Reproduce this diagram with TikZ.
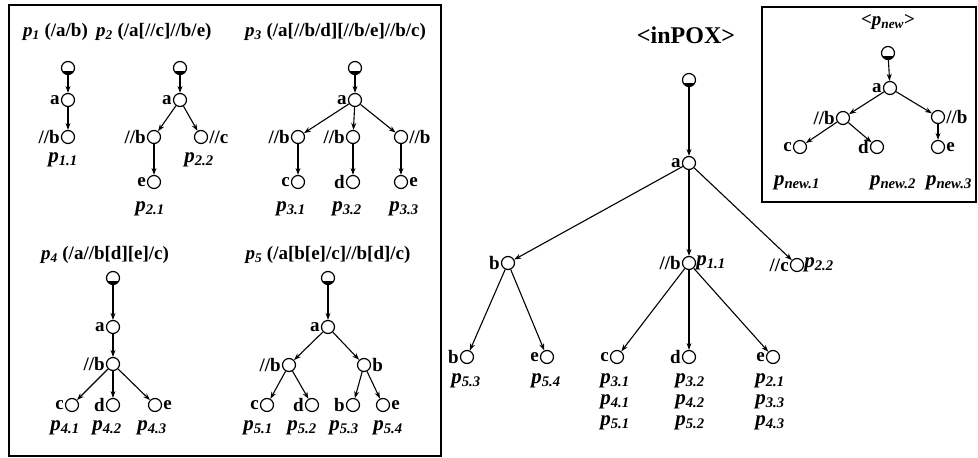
\documentclass[tikz,border=0pt]{standalone}
\usepackage{fontspec}
\setmainfont{Liberation Serif}
\usetikzlibrary{arrows.meta}

% bold-italic path label p_{i.j}
\newcommand\pv[1]{\textbf{\textit{p\textsubscript{#1}}}}

\tikzset{
  vtx/.style={circle, draw, line width=1.2pt, minimum size=13pt, inner sep=0pt},
  rootv/.style={vtx, path picture={\fill (path picture bounding box.south west)
      rectangle ([yshift=4pt]path picture bounding box.south east);}},
  nl/.style={font=\bfseries\fontsize{19}{19}\selectfont, inner sep=0pt, label distance=1pt},
  pl/.style={font=\fontsize{21}{21}\selectfont, inner sep=0pt},
  ttl/.style={font=\bfseries\fontsize{19}{19}\selectfont, inner sep=0pt},
  edge/.style={-{Stealth[length=7pt,width=5pt]}, line width=1.1pt},
}

\begin{document}
\begin{tikzpicture}[x=1pt,y=-1pt]
\useasboundingbox (0,0) rectangle (978,458);

% ---------- query patterns p1 .. p5 ----------
\draw[line width=2pt] (9,5) rectangle (441,456);

\node[ttl, anchor=west] (t1) at (23,32) {\pv{1} (/a/b)};
\node[ttl, anchor=west] (t2) at (96,32) {\pv{2} (/a[//c]//b/e)};
\node[ttl, anchor=west] (t3) at (245,32) {\pv{3} (/a[//b/d][//b/e]//b/c)};

% p1
\node[rootv] (r1) at (68,68) {};
\node[vtx, label={[nl]left:a}] (a1) at (68,100) {};
\node[vtx, label={[nl]left://b}] (b1) at (68,137) {};
\node[pl] (l11) at (63,160) {\pv{1.1}};
\draw[edge] (r1) -- (a1);
\draw[edge] (a1) -- (b1);

% p2
\node[rootv] (r2) at (180,68) {};
\node[vtx, label={[nl]left:a}] (a2) at (180,100) {};
\node[vtx, label={[nl]left://b}] (b2) at (154,137) {};
\node[vtx, label={[nl]right://c}] (c2) at (201,137) {};
\node[vtx, label={[nl]left:e}] (e2) at (154,182) {};
\node[pl] (l22) at (199,160) {\pv{2.2}};
\node[pl] (l21) at (150,209) {\pv{2.1}};
\draw[edge] (r2) -- (a2);
\draw[edge] (a2) -- (b2);
\draw[edge] (a2) -- (c2);
\draw[edge] (b2) -- (e2);

% p3
\node[rootv] (r3) at (355,68) {};
\node[vtx, label={[nl]left:a}] (a3) at (355,100) {};
\node[vtx, label={[nl]left://b}] (b3a) at (298,137) {};
\node[vtx, label={[nl]left://b}] (b3b) at (353,137) {};
\node[vtx, label={[nl]right://b}] (b3c) at (401,137) {};
\node[vtx, label={[nl]left:c}] (c3) at (298,182) {};
\node[vtx, label={[nl]left:d}] (d3) at (353,182) {};
\node[vtx, label={[nl]right:e}] (e3) at (401,182) {};
\node[pl] (l31) at (291,209) {\pv{3.1}};
\node[pl] (l32) at (347,209) {\pv{3.2}};
\node[pl] (l33) at (404,209) {\pv{3.3}};
\draw[edge] (r3) -- (a3);
\draw[edge] (a3) -- (b3a);
\draw[edge] (a3) -- (b3b);
\draw[edge] (a3) -- (b3c);
\draw[edge] (b3a) -- (c3);
\draw[edge] (b3b) -- (d3);
\draw[edge] (b3c) -- (e3);

% p4
\node[ttl] (t4) at (105,255) {\pv{4} (/a//b[d][e]/c)};
\node[rootv] (r4) at (113,278) {};
\node[vtx, label={[nl]left:a}] (a4) at (113,327) {};
\node[vtx, label={[nl]left://b}] (b4) at (113,364) {};
\node[vtx, label={[nl]left:c}] (c4) at (72,405) {};
\node[vtx, label={[nl]left:d}] (d4) at (113,405) {};
\node[vtx, label={[nl]right:e}] (e4) at (155,405) {};
\node[pl] (l41) at (65,428) {\pv{4.1}};
\node[pl] (l42) at (107,428) {\pv{4.2}};
\node[pl] (l43) at (152,428) {\pv{4.3}};
\draw[edge] (r4) -- (a4);
\draw[edge] (a4) -- (b4);
\draw[edge] (b4) -- (c4);
\draw[edge] (b4) -- (d4);
\draw[edge] (b4) -- (e4);

% p5
\node[ttl] (t5) at (328,255) {\pv{5} (/a[b[e]/c]//b[d]/c)};
\node[rootv] (r5) at (328,278) {};
\node[vtx, label={[nl]left:a}] (a5) at (328,327) {};
\node[vtx, label={[nl]left://b}] (b5) at (289,365) {};
\node[vtx, label={[nl]right:b}] (bb5) at (364,365) {};
\node[vtx, label={[nl]left:c}] (c5) at (267,405) {};
\node[vtx, label={[nl]left:d}] (d5) at (312,405) {};
\node[vtx, label={[nl]left:b}] (bl5) at (353,405) {};
\node[vtx, label={[nl]right:e}] (e5) at (383,405) {};
\node[pl] (l51) at (258,428) {\pv{5.1}};
\node[pl] (l52) at (302,428) {\pv{5.2}};
\node[pl] (l53) at (344,428) {\pv{5.3}};
\node[pl] (l54) at (388,428) {\pv{5.4}};
\draw[edge] (r5) -- (a5);
\draw[edge] (a5) -- (b5);
\draw[edge] (a5) -- (bb5);
\draw[edge] (b5) -- (c5);
\draw[edge] (b5) -- (d5);
\draw[edge] (bb5) -- (bl5);
\draw[edge] (bb5) -- (e5);

% ---------- inPOX ----------
\node[ttl, font=\bfseries\fontsize{24}{24}\selectfont] (tin) at (686,35) {\textless inPOX\textgreater};
\node[rootv] (ri) at (689,80) {};
\node[vtx, label={[nl]left:a}] (ai) at (689,163) {};
\node[vtx, label={[nl]left:b}] (bi) at (508,263) {};
\node[vtx, label={[nl]left://b}, label={[pl]right:\pv{1.1}}] (sbi) at (689,263) {};
\node[vtx, label={[nl]left://c}, label={[pl]right:\pv{2.2}}] (sci) at (797,265) {};
\node[vtx, label={[nl]left:b}] (bl) at (467,357) {};
\node[vtx, label={[nl]left:e}] (el) at (547,357) {};
\node[vtx, label={[nl]left:c}] (cl) at (617,357) {};
\node[vtx, label={[nl]left:d}] (dl) at (689,357) {};
\node[vtx, label={[nl]left:e}] (ell) at (773,357) {};
\node[pl] (m53) at (466,381) {\pv{5.3}};
\node[pl] (m54) at (546,381) {\pv{5.4}};
\node[pl] (m31) at (615,381) {\pv{3.1}};
\node[pl] (m41) at (615,402) {\pv{4.1}};
\node[pl] (m51) at (615,423) {\pv{5.1}};
\node[pl] (m32) at (690,381) {\pv{3.2}};
\node[pl] (m42) at (690,402) {\pv{4.2}};
\node[pl] (m52) at (690,423) {\pv{5.2}};
\node[pl] (m21) at (770,381) {\pv{2.1}};
\node[pl] (m33) at (770,402) {\pv{3.3}};
\node[pl] (m43) at (770,423) {\pv{4.3}};
\draw[edge] (ri) -- (ai);
\draw[edge] (ai) -- (bi);
\draw[edge] (ai) -- (sbi);
\draw[edge] (ai) -- (sci);
\draw[edge] (bi) -- (bl);
\draw[edge] (bi) -- (el);
\draw[edge] (sbi) -- (cl);
\draw[edge] (sbi) -- (dl);
\draw[edge] (sbi) -- (ell);

% ---------- new pattern ----------
\draw[line width=1.5pt] (762,7) rectangle (976,202);
\node[ttl, font=\bfseries\fontsize{19}{19}\selectfont] (tnew) at (888,22)
  {\textless\textit{p\textsubscript{new}}\textgreater};
\node[rootv] (rn) at (888,53) {};
\node[vtx, label={[nl]left:a}] (an) at (890,88) {};
\node[vtx, label={[nl]left://b}] (bn1) at (843,118) {};
\node[vtx, label={[nl]right://b}] (bn2) at (938,117) {};
\node[vtx, label={[nl]left:c}] (cn) at (800,147) {};
\node[vtx, label={[nl]left:d}] (dn) at (877,147) {};
\node[vtx, label={[nl]right:e}] (en) at (938,147) {};
\node[pl] (n1) at (797,183) {\pv{new.1}};
\node[pl] (n2) at (893,183) {\pv{new.2}};
\node[pl] (n3) at (949,183) {\pv{new.3}};
\draw[edge] (rn) -- (an);
\draw[edge] (an) -- (bn1);
\draw[edge] (an) -- (bn2);
\draw[edge] (bn1) -- (cn);
\draw[edge] (bn1) -- (dn);
\draw[edge] (bn2) -- (en);
\end{tikzpicture}
\end{document}
